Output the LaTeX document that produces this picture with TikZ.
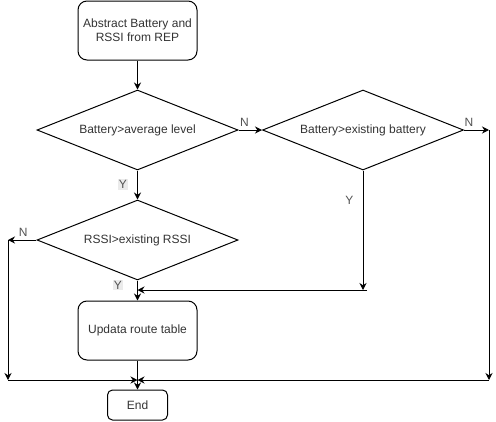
\documentclass[tikz,border=0pt]{standalone}
\usepackage{fontspec}
\setmainfont{Liberation Sans}
\usetikzlibrary{shapes.geometric,arrows.meta,calc}
\definecolor{txt}{HTML}{333333}
\definecolor{lblbgc}{HTML}{EBEBEB}
\begin{document}
\begin{tikzpicture}[x=1pt,y=-1pt,
  every node/.style={font=\fontsize{12}{14}\selectfont, text=txt},
  procbox/.style={draw, line width=1pt, rounded corners=9pt, minimum width=119pt, minimum height=59pt, align=center, inner sep=0pt},
  decision/.style={draw, diamond, aspect=2.5, line width=1pt, minimum width=201pt, minimum height=80pt, inner sep=0pt},
  flow/.style={line width=1pt, -{Stealth[length=7pt,width=7pt]}},
  lbl/.style={font=\fontsize{12}{14}\selectfont, text=txt!85, inner sep=1pt},
  lblbg/.style={lbl, fill=lblbgc}]
\useasboundingbox (0,0) rectangle (496,421);
\node[procbox] (start) at (137.5,30.5) {Abstract Battery and\\RSSI from REP};
\node[decision] (d1) at (137.5,130) {Battery>average level};
\node[decision] (d2) at (363,130) {Battery>existing battery};
\node[decision] (d3) at (137.5,240) {RSSI>existing RSSI};
\node[procbox] (upd) at (137.5,330.5) {Updata route table};
\node[procbox, minimum width=60pt, minimum height=30pt, rounded corners=5pt] (end) at (137.5,405) {End};
\coordinate (r1) at (489,130);
\coordinate (r2) at (489,380);
\coordinate (l1) at (8,240);
\coordinate (l2) at (8,380);
\coordinate (j) at (137.5,380);
\coordinate (m1) at (363,290);
\coordinate (m2) at (367,290);
\coordinate (u) at (137.5,290);
\draw[flow] (start) -- (d1);
\draw[flow] (d1) -- node[lbl, above=2pt, pos=0.25]{N} (d2);
\draw[flow] (d2) -- node[lbl, above=2pt, pos=0.2]{N} (r1);
\draw[flow] (r1) -- (r2);
\draw[flow] (r2) -- (j);
\draw[flow] (d1) -- node[lblbg, left=9pt, pos=0.48]{Y} (d3);
\draw[flow] (d3) -- node[lbl, above=2pt, pos=0.47]{N} (l1);
\draw[flow] (l1) -- (l2);
\draw[flow] (l2) -- (j);
\draw[flow] (d3) -- node[lblbg, left=14pt, pos=0.22]{Y} (upd);
\draw[flow] (d2) -- node[lbl, left=8pt, pos=0.25]{Y} (m1);
\draw[flow] (m2) -- (u);
\draw[flow] (upd) -- (end);
\end{tikzpicture}
\end{document}
